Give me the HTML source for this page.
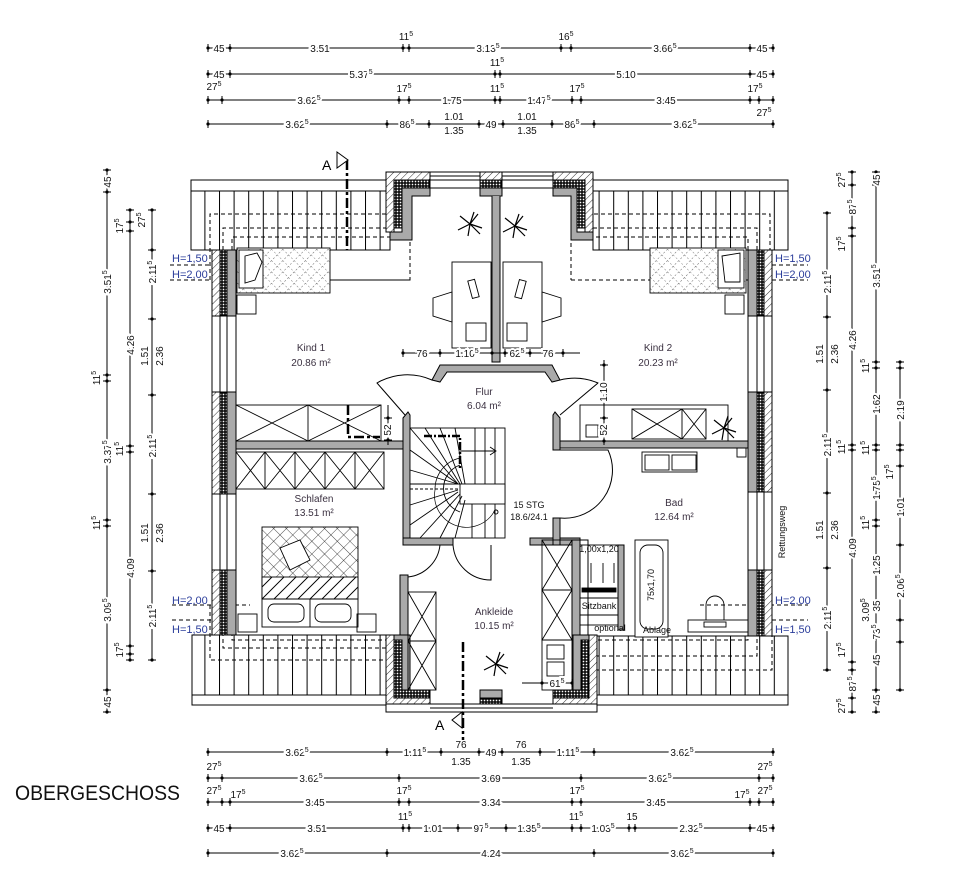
<!DOCTYPE html>
<html><head><meta charset="utf-8"><style>
html,body{margin:0;padding:0;background:#fff;}
svg{display:block}
text{font-family:"Liberation Sans Narrow","Liberation Sans",sans-serif;}
.d{font-size:10px;fill:#111;stroke:#fff;stroke-width:4px;paint-order:stroke;text-anchor:middle;}
.r{font-size:10px;fill:#3a3040;text-anchor:middle;}
.h{font-size:11px;fill:#2a3c9a;}
</style></head><body>
<svg width="953" height="871" viewBox="0 0 953 871" xmlns="http://www.w3.org/2000/svg">
<defs>
<pattern id="ht" patternUnits="userSpaceOnUse" width="5" height="5" patternTransform="rotate(45)"><rect width="5" height="5" fill="#fff"/><line x1="0" y1="0" x2="0" y2="5" stroke="#000" stroke-width="0.8"/></pattern>
<pattern id="ins" patternUnits="userSpaceOnUse" width="3" height="3"><rect width="3" height="3" fill="#000"/><rect x="0.7" y="0.7" width="1.6" height="1.6" fill="#fff"/></pattern>
<pattern id="xh" patternUnits="userSpaceOnUse" width="9" height="9" patternTransform="rotate(45)"><rect width="9" height="9" fill="#fff"/><line x1="0" y1="0" x2="9" y2="0" stroke="#000" stroke-width="0.7"/><line x1="0" y1="0" x2="0" y2="9" stroke="#000" stroke-width="0.7"/></pattern>
<pattern id="dh" patternUnits="userSpaceOnUse" width="8" height="8" patternTransform="rotate(45)"><rect width="8" height="8" fill="#fff"/><line x1="0" y1="0" x2="0" y2="8" stroke="#000" stroke-width="0.6" stroke-dasharray="2 2"/><line x1="0" y1="0" x2="8" y2="0" stroke="#000" stroke-width="0.6" stroke-dasharray="2 2"/></pattern>
<pattern id="raf" patternUnits="userSpaceOnUse" width="14.6" height="10"><rect width="14.6" height="10" fill="#fff"/><line x1="0.5" y1="0" x2="0.5" y2="10" stroke="#000" stroke-width="1"/></pattern>
<g id="tk"><line x1="0" y1="-4" x2="0" y2="4" stroke="#000" stroke-width="1"/><circle r="1.6" fill="#000"/></g>
<g id="tv"><line x1="-4" y1="0" x2="4" y2="0" stroke="#000" stroke-width="1"/><circle r="1.6" fill="#000"/></g>
<g id="win"><rect x="0" y="0" width="24" height="1" fill="none"/></g>
</defs>
<rect width="953" height="871" fill="#fff"/>

<!-- ================= TOP DIMENSIONS ================= -->
<g stroke="#000" stroke-width="1">
<line x1="208" y1="48" x2="773" y2="48"/>
<line x1="208" y1="74" x2="773" y2="74"/>
<line x1="208" y1="100" x2="773" y2="100"/>
<line x1="208" y1="124" x2="773" y2="124"/>
</g>
<g>
<use href="#tk" x="208" y="48"/><use href="#tk" x="230" y="48"/><use href="#tk" x="403" y="48"/><use href="#tk" x="409" y="48"/><use href="#tk" x="561" y="48"/><use href="#tk" x="571" y="48"/><use href="#tk" x="750" y="48"/><use href="#tk" x="773" y="48"/>
<use href="#tk" x="208" y="74"/><use href="#tk" x="230" y="74"/><use href="#tk" x="495" y="74"/><use href="#tk" x="500" y="74"/><use href="#tk" x="750" y="74"/><use href="#tk" x="773" y="74"/>
<use href="#tk" x="208" y="100"/><use href="#tk" x="222" y="100"/><use href="#tk" x="399" y="100"/><use href="#tk" x="409" y="100"/><use href="#tk" x="495" y="100"/><use href="#tk" x="500" y="100"/><use href="#tk" x="572" y="100"/><use href="#tk" x="581" y="100"/><use href="#tk" x="750" y="100"/><use href="#tk" x="759" y="100"/><use href="#tk" x="773" y="100"/>
<use href="#tk" x="208" y="124"/><use href="#tk" x="387" y="124"/><use href="#tk" x="429" y="124"/><use href="#tk" x="479" y="124"/><use href="#tk" x="503" y="124"/><use href="#tk" x="552" y="124"/><use href="#tk" x="594" y="124"/><use href="#tk" x="773" y="124"/>
</g>
<g class="d">
<text x="219" y="52">45</text><text x="320" y="52">3.51</text><text x="488" y="52">3.13<tspan font-size="7" dy="-4">5</tspan></text><text x="665" y="52">3.66<tspan font-size="7" dy="-4">5</tspan></text><text x="762" y="52">45</text>
<text x="406" y="40" stroke="none">11<tspan font-size="7" dy="-4">5</tspan></text><text x="566" y="40" stroke="none">16<tspan font-size="7" dy="-4">5</tspan></text>
<text x="219" y="78">45</text><text x="361" y="78">5.37<tspan font-size="7" dy="-4">5</tspan></text><text x="626" y="78">5.10</text><text x="762" y="78">45</text>
<text x="497" y="66" stroke="none">11<tspan font-size="7" dy="-4">5</tspan></text>
<text x="214" y="90" stroke="none">27<tspan font-size="7" dy="-4">5</tspan></text><text x="309" y="104">3.62<tspan font-size="7" dy="-4">5</tspan></text><text x="404" y="92" stroke="none">17<tspan font-size="7" dy="-4">5</tspan></text><text x="452" y="104">1.75</text><text x="497" y="92" stroke="none">11<tspan font-size="7" dy="-4">5</tspan></text><text x="539" y="104">1.47<tspan font-size="7" dy="-4">5</tspan></text><text x="577" y="92" stroke="none">17<tspan font-size="7" dy="-4">5</tspan></text><text x="666" y="104">3.45</text><text x="755" y="92" stroke="none">17<tspan font-size="7" dy="-4">5</tspan></text>
<text x="297" y="128">3.62<tspan font-size="7" dy="-4">5</tspan></text><text x="407" y="128">86<tspan font-size="7" dy="-4">5</tspan></text><text x="454" y="120" stroke="none">1.01</text><text x="454" y="134" stroke="none">1.35</text><text x="491" y="128">49</text><text x="527" y="120" stroke="none">1.01</text><text x="527" y="134" stroke="none">1.35</text><text x="572" y="128">86<tspan font-size="7" dy="-4">5</tspan></text><text x="685" y="128">3.62<tspan font-size="7" dy="-4">5</tspan></text><text x="764" y="116" stroke="none">27<tspan font-size="7" dy="-4">5</tspan></text>
</g>

<!-- ================= BOTTOM DIMENSIONS ================= -->
<g stroke="#000" stroke-width="1">
<line x1="208" y1="752" x2="773" y2="752"/>
<line x1="208" y1="778" x2="773" y2="778"/>
<line x1="208" y1="802" x2="773" y2="802"/>
<line x1="208" y1="828" x2="773" y2="828"/>
<line x1="208" y1="853" x2="773" y2="853"/>
</g>
<g>
<use href="#tk" x="208" y="752"/><use href="#tk" x="387" y="752"/><use href="#tk" x="441" y="752"/><use href="#tk" x="479" y="752"/><use href="#tk" x="502" y="752"/><use href="#tk" x="540" y="752"/><use href="#tk" x="594" y="752"/><use href="#tk" x="773" y="752"/>
<use href="#tk" x="208" y="778"/><use href="#tk" x="222" y="778"/><use href="#tk" x="399" y="778"/><use href="#tk" x="581" y="778"/><use href="#tk" x="759" y="778"/><use href="#tk" x="773" y="778"/>
<use href="#tk" x="208" y="802"/><use href="#tk" x="222" y="802"/><use href="#tk" x="230" y="802"/><use href="#tk" x="399" y="802"/><use href="#tk" x="409" y="802"/><use href="#tk" x="572" y="802"/><use href="#tk" x="581" y="802"/><use href="#tk" x="750" y="802"/><use href="#tk" x="759" y="802"/><use href="#tk" x="773" y="802"/>
<use href="#tk" x="208" y="828"/><use href="#tk" x="230" y="828"/><use href="#tk" x="403" y="828"/><use href="#tk" x="409" y="828"/><use href="#tk" x="458" y="828"/><use href="#tk" x="506" y="828"/><use href="#tk" x="572" y="828"/><use href="#tk" x="581" y="828"/><use href="#tk" x="629" y="828"/><use href="#tk" x="635" y="828"/><use href="#tk" x="750" y="828"/><use href="#tk" x="773" y="828"/>
<use href="#tk" x="208" y="853"/><use href="#tk" x="387" y="853"/><use href="#tk" x="594" y="853"/><use href="#tk" x="773" y="853"/>
</g>
<g class="d">
<text x="297" y="756">3.62<tspan font-size="7" dy="-4">5</tspan></text><text x="415" y="756">1.11<tspan font-size="7" dy="-4">5</tspan></text><text x="461" y="748" stroke="none">76</text><text x="461" y="765" stroke="none">1.35</text><text x="491" y="756">49</text><text x="521" y="748" stroke="none">76</text><text x="521" y="765" stroke="none">1.35</text><text x="568" y="756">1.11<tspan font-size="7" dy="-4">5</tspan></text><text x="682" y="756">3.62<tspan font-size="7" dy="-4">5</tspan></text>
<text x="214" y="770" stroke="none">27<tspan font-size="7" dy="-4">5</tspan></text><text x="311" y="782">3.62<tspan font-size="7" dy="-4">5</tspan></text><text x="491" y="782">3.69</text><text x="660" y="782">3.62<tspan font-size="7" dy="-4">5</tspan></text><text x="765" y="770" stroke="none">27<tspan font-size="7" dy="-4">5</tspan></text>
<text x="214" y="794" stroke="none">27<tspan font-size="7" dy="-4">5</tspan></text><text x="238" y="798" stroke="none">17<tspan font-size="7" dy="-4">5</tspan></text><text x="315" y="806">3.45</text><text x="404" y="794" stroke="none">17<tspan font-size="7" dy="-4">5</tspan></text><text x="491" y="806">3.34</text><text x="577" y="794" stroke="none">17<tspan font-size="7" dy="-4">5</tspan></text><text x="656" y="806">3.45</text><text x="742" y="798" stroke="none">17<tspan font-size="7" dy="-4">5</tspan></text><text x="765" y="794" stroke="none">27<tspan font-size="7" dy="-4">5</tspan></text>
<text x="219" y="832">45</text><text x="317" y="832">3.51</text><text x="405" y="820" stroke="none">11<tspan font-size="7" dy="-4">5</tspan></text><text x="433" y="832">1.01</text><text x="481" y="832">97<tspan font-size="7" dy="-4">5</tspan></text><text x="529" y="832">1.35<tspan font-size="7" dy="-4">5</tspan></text><text x="576" y="820" stroke="none">11<tspan font-size="7" dy="-4">5</tspan></text><text x="603" y="832">1.03<tspan font-size="7" dy="-4">5</tspan></text><text x="632" y="820" stroke="none">15</text><text x="691" y="832">2.32<tspan font-size="7" dy="-4">5</tspan></text><text x="762" y="832">45</text>
<text x="292" y="857">3.62<tspan font-size="7" dy="-4">5</tspan></text><text x="491" y="857">4.24</text><text x="682" y="857">3.62<tspan font-size="7" dy="-4">5</tspan></text>
</g>

<!-- ================= LEFT VERTICAL DIMENSIONS ================= -->
<g stroke="#000" stroke-width="1">
<line x1="107" y1="170" x2="107" y2="712"/>
<line x1="130" y1="210" x2="130" y2="660"/>
<line x1="152" y1="210" x2="152" y2="660"/>
</g>
<g>
<use href="#tv" x="107" y="170"/><use href="#tv" x="107" y="192"/><use href="#tv" x="107" y="375"/><use href="#tv" x="107" y="381"/><use href="#tv" x="107" y="520"/><use href="#tv" x="107" y="526"/><use href="#tv" x="107" y="690"/><use href="#tv" x="107" y="712"/>
<use href="#tv" x="130" y="210"/><use href="#tv" x="130" y="222"/><use href="#tv" x="130" y="231"/><use href="#tv" x="130" y="446"/><use href="#tv" x="130" y="452"/><use href="#tv" x="130" y="646"/><use href="#tv" x="130" y="654"/><use href="#tv" x="130" y="660"/>
<use href="#tv" x="152" y="210"/><use href="#tv" x="152" y="250"/><use href="#tv" x="152" y="319"/><use href="#tv" x="152" y="395"/><use href="#tv" x="152" y="494"/><use href="#tv" x="152" y="571"/><use href="#tv" x="152" y="660"/>
</g>
<g class="d">
<text transform="translate(111,182) rotate(-90)">45</text>
<text transform="translate(111,282) rotate(-90)">3.51<tspan font-size="7" dy="-4">5</tspan></text>
<text transform="translate(100,378) rotate(-90)" stroke="none">11<tspan font-size="7" dy="-4">5</tspan></text>
<text transform="translate(111,452) rotate(-90)">3.37<tspan font-size="7" dy="-4">5</tspan></text>
<text transform="translate(100,523) rotate(-90)" stroke="none">11<tspan font-size="7" dy="-4">5</tspan></text>
<text transform="translate(111,610) rotate(-90)">3.09<tspan font-size="7" dy="-4">5</tspan></text>
<text transform="translate(111,702) rotate(-90)">45</text>
<text transform="translate(123,226) rotate(-90)" stroke="none">17<tspan font-size="7" dy="-4">5</tspan></text>
<text transform="translate(145,220) rotate(-90)" stroke="none">27<tspan font-size="7" dy="-4">5</tspan></text>
<text transform="translate(134,345) rotate(-90)">4.26</text>
<text transform="translate(123,449) rotate(-90)" stroke="none">11<tspan font-size="7" dy="-4">5</tspan></text>
<text transform="translate(134,568) rotate(-90)">4.09</text>
<text transform="translate(123,650) rotate(-90)" stroke="none">17<tspan font-size="7" dy="-4">5</tspan></text>
<text transform="translate(156,272) rotate(-90)">2.11<tspan font-size="7" dy="-4">5</tspan></text>
<text transform="translate(148,356) rotate(-90)" stroke="none">1.51</text>
<text transform="translate(163,356) rotate(-90)" stroke="none">2.36</text>
<text transform="translate(156,446) rotate(-90)">2.11<tspan font-size="7" dy="-4">5</tspan></text>
<text transform="translate(148,533) rotate(-90)" stroke="none">1.51</text>
<text transform="translate(163,533) rotate(-90)" stroke="none">2.36</text>
<text transform="translate(156,616) rotate(-90)">2.11<tspan font-size="7" dy="-4">5</tspan></text>
</g>

<!-- ================= RIGHT VERTICAL DIMENSIONS ================= -->
<g stroke="#000" stroke-width="1">
<line x1="827" y1="213" x2="827" y2="670"/>
<line x1="852" y1="172" x2="852" y2="712"/>
<line x1="876" y1="172" x2="876" y2="712"/>
<line x1="900" y1="362" x2="900" y2="690"/>
</g>
<g>
<use href="#tv" x="827" y="213"/><use href="#tv" x="827" y="317"/><use href="#tv" x="827" y="390"/><use href="#tv" x="827" y="493"/><use href="#tv" x="827" y="568"/><use href="#tv" x="827" y="670"/>
<use href="#tv" x="852" y="172"/><use href="#tv" x="852" y="185"/><use href="#tv" x="852" y="228"/><use href="#tv" x="852" y="236"/><use href="#tv" x="852" y="445"/><use href="#tv" x="852" y="450"/><use href="#tv" x="852" y="662"/><use href="#tv" x="852" y="670"/><use href="#tv" x="852" y="698"/><use href="#tv" x="852" y="712"/>
<use href="#tv" x="876" y="172"/><use href="#tv" x="876" y="185"/><use href="#tv" x="876" y="362"/><use href="#tv" x="876" y="368"/><use href="#tv" x="876" y="445"/><use href="#tv" x="876" y="450"/><use href="#tv" x="876" y="520"/><use href="#tv" x="876" y="526"/><use href="#tv" x="876" y="690"/><use href="#tv" x="876" y="712"/>
<use href="#tv" x="900" y="362"/><use href="#tv" x="900" y="368"/><use href="#tv" x="900" y="445"/><use href="#tv" x="900" y="450"/><use href="#tv" x="900" y="466"/><use href="#tv" x="900" y="545"/><use href="#tv" x="900" y="620"/><use href="#tv" x="900" y="642"/><use href="#tv" x="900" y="690"/>
</g>
<g class="d">
<text transform="translate(831,282) rotate(-90)">2.11<tspan font-size="7" dy="-4">5</tspan></text>
<text transform="translate(823,354) rotate(-90)" stroke="none">1.51</text>
<text transform="translate(838,354) rotate(-90)" stroke="none">2.36</text>
<text transform="translate(831,445) rotate(-90)">2.11<tspan font-size="7" dy="-4">5</tspan></text>
<text transform="translate(823,530) rotate(-90)" stroke="none">1.51</text>
<text transform="translate(838,530) rotate(-90)" stroke="none">2.36</text>
<text transform="translate(831,618) rotate(-90)">2.11<tspan font-size="7" dy="-4">5</tspan></text>
<text transform="translate(845,180) rotate(-90)" stroke="none">27<tspan font-size="7" dy="-4">5</tspan></text>
<text transform="translate(856,207) rotate(-90)">87<tspan font-size="7" dy="-4">5</tspan></text>
<text transform="translate(845,244) rotate(-90)" stroke="none">17<tspan font-size="7" dy="-4">5</tspan></text>
<text transform="translate(856,340) rotate(-90)">4.26</text>
<text transform="translate(845,447) rotate(-90)" stroke="none">11<tspan font-size="7" dy="-4">5</tspan></text>
<text transform="translate(856,548) rotate(-90)">4.09</text>
<text transform="translate(845,650) rotate(-90)" stroke="none">17<tspan font-size="7" dy="-4">5</tspan></text>
<text transform="translate(856,684) rotate(-90)">87<tspan font-size="7" dy="-4">5</tspan></text>
<text transform="translate(845,706) rotate(-90)" stroke="none">27<tspan font-size="7" dy="-4">5</tspan></text>
<text transform="translate(880,180) rotate(-90)">45</text>
<text transform="translate(880,276) rotate(-90)">3.51<tspan font-size="7" dy="-4">5</tspan></text>
<text transform="translate(869,366) rotate(-90)" stroke="none">11<tspan font-size="7" dy="-4">5</tspan></text>
<text transform="translate(880,404) rotate(-90)">1.62</text>
<text transform="translate(869,448) rotate(-90)" stroke="none">11<tspan font-size="7" dy="-4">5</tspan></text>
<text transform="translate(880,488) rotate(-90)">1.75<tspan font-size="7" dy="-4">5</tspan></text>
<text transform="translate(869,523) rotate(-90)" stroke="none">11<tspan font-size="7" dy="-4">5</tspan></text>
<text transform="translate(880,565) rotate(-90)">1.25</text>
<text transform="translate(880,606) rotate(-90)">35</text>
<text transform="translate(880,632) rotate(-90)">73<tspan font-size="7" dy="-4">5</tspan></text>
<text transform="translate(880,660) rotate(-90)">45</text>
<text transform="translate(880,700) rotate(-90)">45</text>
<text transform="translate(869,610) rotate(-90)" stroke="none">3.09<tspan font-size="7" dy="-4">5</tspan></text>
<text transform="translate(904,410) rotate(-90)">2.19</text>
<text transform="translate(893,472) rotate(-90)" stroke="none">17<tspan font-size="7" dy="-4">5</tspan></text>
<text transform="translate(904,507) rotate(-90)">1.01</text>
<text transform="translate(904,586) rotate(-90)">2.06<tspan font-size="7" dy="-4">5</tspan></text>
</g>

<!-- ================= ROOF EAVES ================= -->
<g stroke="#000" stroke-width="1">
<rect x="191" y="180" width="199" height="11" fill="#fff"/>
<rect x="191" y="191" width="199" height="59" fill="url(#raf)"/>
<rect x="593" y="180" width="195" height="11" fill="#fff"/>
<rect x="593" y="191" width="195" height="59" fill="url(#raf)"/>
<rect x="192" y="635" width="198" height="60" fill="url(#raf)"/>
<rect x="192" y="695" width="198" height="10" fill="#fff"/>
<rect x="593" y="636" width="195" height="59" fill="url(#raf)"/>
<rect x="593" y="695" width="195" height="10" fill="#fff"/>
</g>
<g stroke="#000" stroke-width="1" fill="none" stroke-dasharray="4 3">
<path d="M210 280 V214 H410 V280 Z"/>
<path d="M223 250 V228 H410"/>
<path d="M232 250 V237 H410"/>
<path d="M770 280 V214 H571 V280"/>
<path d="M757 250 V228 H571"/>
<path d="M748 250 V237 H571"/>
<path d="M210 605 V660 H390"/><path d="M223 632 V648 H390"/><path d="M232 632 V640 H390"/>
<path d="M772 605 V670 H593"/><path d="M757 632 V656 H593"/><path d="M748 632 V640 H593"/>
<path d="M410 280 H236"/><path d="M571 280 H748"/>
<path d="M170 280 H212"/><path d="M170 265 H212"/>
<path d="M772 280 H808"/><path d="M772 265 H808"/>
<path d="M172 620 H212"/><path d="M172 605 H250"/>
<path d="M772 620 H808"/><path d="M700 605 H808"/>
</g>

<!-- ================= OUTER WALLS ================= -->
<!-- left wall -->
<g stroke="#000" stroke-width="1">
<rect x="212" y="250" width="237" height="0" fill="none"/>
<rect x="212" y="250" width="24" height="385" fill="#fff"/>
<line x1="220" y1="250" x2="220" y2="635"/><line x1="227" y1="250" x2="227" y2="635"/>
<g>
<rect x="212" y="250" width="8" height="66" fill="url(#ht)"/><rect x="220" y="250" width="7" height="66" fill="url(#ins)"/><rect x="227" y="250" width="9" height="66" fill="#aaa"/>
<rect x="212" y="392" width="8" height="102" fill="url(#ht)"/><rect x="220" y="392" width="7" height="102" fill="url(#ins)"/><rect x="227" y="392" width="9" height="102" fill="#aaa"/>
<rect x="212" y="570" width="8" height="65" fill="url(#ht)"/><rect x="220" y="570" width="7" height="65" fill="url(#ins)"/><rect x="227" y="570" width="9" height="65" fill="#aaa"/>
</g>
<!-- right wall -->
<rect x="748" y="250" width="24" height="386" fill="#fff"/>
<line x1="757" y1="250" x2="757" y2="636"/><line x1="764" y1="250" x2="764" y2="636"/>
<rect x="748" y="250" width="9" height="66" fill="#aaa"/><rect x="757" y="250" width="7" height="66" fill="url(#ins)"/><rect x="764" y="250" width="8" height="66" fill="url(#ht)"/>
<rect x="748" y="392" width="9" height="100" fill="#aaa"/><rect x="757" y="392" width="7" height="100" fill="url(#ins)"/><rect x="764" y="392" width="8" height="100" fill="url(#ht)"/>
<rect x="748" y="570" width="9" height="66" fill="#aaa"/><rect x="757" y="570" width="7" height="66" fill="url(#ins)"/><rect x="764" y="570" width="8" height="66" fill="url(#ht)"/>
</g>

<!-- ================= TOP DORMER ================= -->
<g stroke="#000" stroke-width="1">
<rect x="386" y="172" width="207" height="8" fill="#fff"/>
<line x1="386" y1="176" x2="593" y2="176"/>
<!-- left dormer wall -->
<path d="M386 172 H430 V180 H394 V232 H386 Z" fill="url(#ht)"/>
<path d="M394 180 H430 V188 H402 V228 H394 Z" fill="url(#ins)"/>
<path d="M402 188 H430 V196 H412 V240 H390 V232 H402 Z" fill="#aaa"/>
<!-- right dormer wall -->
<path d="M593 172 H553 V180 H585 V232 H593 Z" fill="url(#ht)"/>
<path d="M585 180 H553 V188 H577 V228 H585 Z" fill="url(#ins)"/>
<path d="M577 188 H553 V196 H571 V240 H593 V232 H577 Z" fill="#aaa"/>
<!-- center pier -->
<rect x="480" y="172" width="22" height="8" fill="url(#ht)"/>
<rect x="480" y="180" width="22" height="8" fill="url(#ins)"/>
<rect x="480" y="188" width="22" height="8" fill="#aaa"/>
<line x1="430" y1="188" x2="480" y2="188"/><line x1="502" y1="188" x2="553" y2="188"/>
<!-- center wall -->
<path d="M492 196 V362 H500 V196" fill="#aaa"/>
<!-- Flur top wall -->
<path d="M432 380 L440 365 H552 L560 380 L552 382 L545 372 H447 L440 382 Z" fill="#aaa"/>
</g>

<!-- ================= BOTTOM DORMER ================= -->
<g stroke="#000" stroke-width="1">
<path d="M386 635 H410 V690 H430 V698 H394 Z" fill="#aaa"/>
<path d="M394 640 H402 V690 H430 V698 H394 Z" fill="url(#ins)"/>
<path d="M386 635 H394 V698 H430 V712 H386 Z" fill="url(#ht)"/>
<path d="M597 635 H573 V690 H553 V698 H589 Z" fill="#aaa"/>
<path d="M589 640 H581 V690 H553 V698 H589 Z" fill="url(#ins)"/>
<path d="M597 635 H589 V698 H553 V712 H597 Z" fill="url(#ht)"/>
<rect x="480" y="690" width="22" height="22" fill="#aaa"/>
<rect x="480" y="698" width="22" height="14" fill="url(#ins)"/>
<rect x="386" y="704" width="211" height="8" fill="#fff"/>
<line x1="430" y1="708" x2="553" y2="708"/>
</g>

<!-- ================= INTERIOR WALLS ================= -->
<g stroke="#000" stroke-width="1" fill="#aaa">
<!-- Kind1 / Schlafen wall -->
<rect x="236" y="441" width="172" height="8"/>
<!-- Flur left wall -->
<path d="M403 418 L408 412 L410 415 V540 H403 Z"/>
<!-- stair bottom wall / Ankleide top -->
<rect x="403" y="538" width="50" height="7"/>
<rect x="530" y="538" width="50" height="7"/>
<!-- Flur right wall -->
<path d="M560 418 L555 412 L553 415 V450 H560 Z"/>
<rect x="553" y="518" width="7" height="27"/>
<!-- Bad top wall -->
<rect x="560" y="441" width="188" height="7"/>
<!-- Ankleide left & right walls -->
<rect x="400" y="575" width="8" height="60"/>
<rect x="572" y="540" width="8" height="95"/>
<rect x="580" y="540" width="8" height="95" fill="#fff"/>
<rect x="618" y="545" width="6" height="85"/>
</g>
<!-- doors -->
<g stroke="#000" stroke-width="1" fill="none">
<path d="M432 380 A60 60 0 0 0 377 383 L405 415"/>
<path d="M560 380 A60 60 0 0 1 598 383 L560 415"/>
<path d="M560 450 H608 A48 48 0 0 1 560 518"/>
<path d="M453 545 A38 38 0 0 0 491 580 V545"/>
<path d="M408 545 H440 A36 36 0 0 1 408 577"/>
</g>

<!-- ================= STAIR ================= -->
<g stroke="#000" stroke-width="0.9" fill="none">
<rect x="410" y="428" width="95" height="110" fill="#fff"/>
<rect x="460" y="484" width="45" height="20" fill="#fff"/>
<line x1="410" y1="484" x2="460" y2="484"/><line x1="410" y1="489" x2="460" y2="489" stroke-dasharray="3 2"/>
<line x1="475" y1="428" x2="475" y2="484"/><line x1="485" y1="428" x2="485" y2="484"/><line x1="495" y1="428" x2="495" y2="484"/>
<line x1="410" y1="428" x2="458" y2="484"/><line x1="425" y1="428" x2="460" y2="484"/><line x1="440" y1="428" x2="462" y2="484"/><line x1="455" y1="428" x2="465" y2="484"/>
<line x1="410" y1="450" x2="458" y2="484"/><line x1="410" y1="470" x2="458" y2="484"/>
<line x1="410" y1="505" x2="458" y2="490"/><line x1="410" y1="525" x2="458" y2="492"/><line x1="420" y1="538" x2="460" y2="494"/><line x1="440" y1="538" x2="462" y2="496"/><line x1="455" y1="538" x2="465" y2="500"/>
<line x1="472" y1="504" x2="472" y2="538"/><line x1="485" y1="504" x2="485" y2="538"/><line x1="495" y1="504" x2="495" y2="538"/>
<path d="M460 465 A25 25 0 0 0 460 512"/>
<path d="M460 458 A32 32 0 0 0 435 490 A32 32 0 0 0 495 510" stroke-width="0.7"/>
<line x1="460" y1="451" x2="495" y2="451"/><path d="M490 447 L496 451 L490 455"/>
<circle cx="496" cy="512" r="2"/>
</g>
<path d="M424 436 H460 V468" stroke="#000" stroke-width="2.5" fill="none" stroke-dasharray="8 2 2 2"/>
<path d="M348 405 V437 H380" stroke="#000" stroke-width="2.5" fill="none" stroke-dasharray="10 3 3 3"/>
<line x1="347" y1="160" x2="347" y2="250" stroke="#000" stroke-width="2.5" stroke-dasharray="10 3 3 3"/>
<line x1="463" y1="642" x2="463" y2="740" stroke="#000" stroke-width="2.5" stroke-dasharray="10 3 3 3"/>
<g stroke="#000" fill="#fff"><path d="M337 152 L348 160 L337 168 Z"/><path d="M452 720 L462 712 L462 728 Z"/></g>
<text x="322" y="170" font-size="14" fill="#000">A</text>
<text x="435" y="730" font-size="14" fill="#000">A</text>

<!-- ================= FURNITURE ================= -->
<g stroke="#000" stroke-width="0.9" fill="none">
<!-- Kind1 bed -->
<rect x="237" y="248" width="93" height="45" fill="url(#dh)"/>
<rect x="239" y="250" width="24" height="38" fill="#fff"/>
<path d="M245 256 L257 253 L262 262 L255 280 L245 283 Z"/>
<rect x="237" y="295" width="19" height="19"/>
<!-- Kind2 bed -->
<rect x="650" y="248" width="96" height="45" fill="url(#dh)"/>
<rect x="718" y="250" width="26" height="38" fill="#fff"/>
<path d="M722 256 L740 253 L740 282 L725 282 Z"/>
<rect x="725" y="295" width="19" height="19"/>
<!-- desks -->
<rect x="452" y="262" width="39" height="86" fill="#fff"/>
<rect x="503" y="262" width="39" height="86" fill="#fff"/>
<rect x="466" y="323" width="20" height="18"/><rect x="507" y="323" width="20" height="18"/>
<rect x="470" y="280" width="7" height="18" transform="rotate(-15 473 289)"/>
<rect x="517" y="280" width="7" height="18" transform="rotate(15 520 289)"/>
<path d="M433 298 L452 292 V322 L433 316 Z"/><path d="M561 298 L542 292 V322 L561 316 Z"/>
<!-- Kind1 wardrobe -->
<rect x="236" y="405" width="145" height="36"/>
<line x1="308" y1="405" x2="308" y2="441"/>
<path d="M236 405 L308 441 M308 405 L236 441 M308 405 L381 441 M381 405 L308 441"/>
<!-- Schlafen wardrobe -->
<rect x="236" y="452" width="148" height="37"/>
<path d="M265 452 V489 M295 452 V489 M325 452 V489 M355 452 V489"/>
<path d="M236 452 L265 489 M265 452 L236 489 M265 452 L295 489 M295 452 L265 489 M295 452 L325 489 M325 452 L295 489 M325 452 L355 489 M355 452 L325 489 M355 452 L384 489 M384 452 L355 489"/>
<!-- Schlafen bed -->
<rect x="262" y="527" width="96" height="72" fill="url(#xh)"/>
<rect x="262" y="577" width="96" height="22" fill="#fff"/>
<path d="M262 599 L284 577 M274 599 L296 577 M286 599 L308 577 M298 599 L320 577 M310 599 L332 577 M322 599 L344 577 M334 599 L356 577 M262 587 L272 577 M346 599 L358 587"/>
<rect x="262" y="599" width="96" height="28"/>
<line x1="310" y1="599" x2="310" y2="627"/>
<rect x="268" y="604" width="36" height="18" rx="6"/><rect x="315" y="604" width="36" height="18" rx="6"/>
<rect x="238" y="614" width="19" height="18"/><rect x="357" y="614" width="19" height="18"/>
<path d="M280 548 L300 540 L310 560 L290 570 Z" fill="#fff"/>
<!-- Bad -->
<rect x="580" y="405" width="148" height="36"/>
<rect x="632" y="409" width="74" height="30"/><line x1="682" y1="409" x2="682" y2="439"/>
<path d="M632 409 L682 439 M682 409 L632 439 M682 409 L706 439 M706 409 L682 439"/>
<rect x="586" y="425" width="12" height="12"/>
<rect x="642" y="452" width="55" height="20"/><rect x="645" y="455" width="24" height="15"/><rect x="672" y="455" width="24" height="15"/>
<rect x="737" y="448" width="9" height="9"/>
<rect x="635" y="540" width="33" height="97" fill="#fff"/>
<rect x="640" y="545" width="23" height="84" rx="8"/>
<rect x="580" y="545" width="38" height="80"/>
<line x1="580" y1="598" x2="618" y2="598"/>
<line x1="580" y1="615" x2="618" y2="615"/>
<rect x="582" y="588" width="34" height="4" fill="#000"/>
<path d="M591 563 V583 M603 563 V583 M614 563 V583"/>
<rect x="688" y="620" width="60" height="12"/>
<path d="M706 620 V605 A9 9 0 0 1 724 605 V620"/>
<rect x="704" y="622" width="22" height="5"/>
<!-- Ankleide cabinets -->
<rect x="408" y="592" width="28" height="98"/>
<path d="M408 592 L436 641 M436 592 L408 641 M408 641 L436 690 M436 641 L408 690"/><line x1="408" y1="641" x2="436" y2="641"/>
<rect x="542" y="540" width="30" height="100"/>
<path d="M542 540 L572 590 M572 540 L542 590 M542 590 L572 640 M572 590 L542 640"/><line x1="542" y1="590" x2="572" y2="590"/>
<rect x="542" y="640" width="30" height="50"/>
<rect x="547" y="645" width="17" height="14"/><rect x="547" y="662" width="17" height="14"/>
</g>
<!-- plants -->
<g stroke="#000" stroke-width="1.2" fill="none">
<path d="M470 224 l-10 -8 M470 224 l8 -10 M470 224 l12 4 M470 224 l-2 12 M470 224 l-12 6 M470 224 l4 -12 M470 224 l10 10"/>
<path d="M515 226 l-10 -8 M515 226 l8 -10 M515 226 l12 4 M515 226 l-2 12 M515 226 l-12 6 M515 226 l4 -12 M515 226 l10 10"/>
<path d="M496 664 l-10 -8 M496 664 l8 -10 M496 664 l12 4 M496 664 l-2 12 M496 664 l-12 6 M496 664 l4 -12 M496 664 l10 10"/>
<path d="M724 428 l-10 -8 M724 428 l8 -10 M724 428 l12 4 M724 428 l-2 12 M724 428 l-12 6 M724 428 l4 -12 M724 428 l10 10"/>
</g>

<!-- small dims inside -->
<g stroke="#000" stroke-width="1"><line x1="403" y1="353" x2="580" y2="353"/><line x1="388" y1="405" x2="388" y2="445"/><line x1="604" y1="360" x2="604" y2="445"/><line x1="522" y1="683" x2="572" y2="683"/></g>
<g><use href="#tk" x="403" y="353"/><use href="#tk" x="440" y="353"/><use href="#tk" x="492" y="353"/><use href="#tk" x="505" y="353"/><use href="#tk" x="530" y="353"/><use href="#tk" x="563" y="353"/><use href="#tv" x="388" y="418"/><use href="#tv" x="388" y="440"/><use href="#tv" x="604" y="365"/><use href="#tv" x="604" y="418"/><use href="#tv" x="604" y="441"/><use href="#tk" x="542" y="683"/><use href="#tk" x="572" y="683"/></g>
<g class="d">
<text x="422" y="357">76</text><text x="467" y="357">1.10<tspan font-size="7" dy="-4">5</tspan></text><text x="517" y="357">62<tspan font-size="7" dy="-4">5</tspan></text><text x="548" y="357">76</text>
<text transform="translate(391,430) rotate(-90)">52</text>
<text transform="translate(607,392) rotate(-90)">1.10</text>
<text transform="translate(607,430) rotate(-90)">52</text>
<text x="557" y="687">61<tspan font-size="7" dy="-4">5</tspan></text>
</g>

<!-- room labels -->
<g class="r">
<text x="311" y="351">Kind 1</text><text x="311" y="366">20.86 m²</text>
<text x="658" y="351">Kind 2</text><text x="658" y="366">20.23 m²</text>
<text x="484" y="395">Flur</text><text x="484" y="409">6.04 m²</text>
<text x="314" y="502">Schlafen</text><text x="314" y="516">13.51 m²</text>
<text x="674" y="506">Bad</text><text x="674" y="520">12.64 m²</text>
<text x="494" y="615">Ankleide</text><text x="494" y="629">10.15 m²</text>
</g>
<g font-size="9" fill="#111" text-anchor="middle">
<text x="529" y="508">15  STG</text><text x="529" y="520">18.6/24.1</text>
<text x="599" y="552">1,00x1,20</text>
<text x="599" y="609">Sitzbank</text>
<text x="610" y="631">optional</text>
<text x="657" y="633">Ablage</text>
<text transform="translate(654,585) rotate(-90)">75x1,70</text>
<text transform="translate(785,532) rotate(-90)">Rettungsweg</text>
</g>
<g class="h">
<text x="172" y="262">H=1,50</text><text x="172" y="278">H=2,00</text>
<text x="775" y="262">H=1,50</text><text x="775" y="278">H=2,00</text>
<text x="172" y="604">H=2,00</text><text x="172" y="633">H=1,50</text>
<text x="775" y="604">H=2,00</text><text x="775" y="633">H=1,50</text>
</g>
<text x="15" y="800" font-size="21" fill="#111" style="font-family:'Liberation Sans Narrow','Liberation Sans',sans-serif" textLength="165" lengthAdjust="spacingAndGlyphs">OBERGESCHOSS</text>
</svg>
</body></html>
